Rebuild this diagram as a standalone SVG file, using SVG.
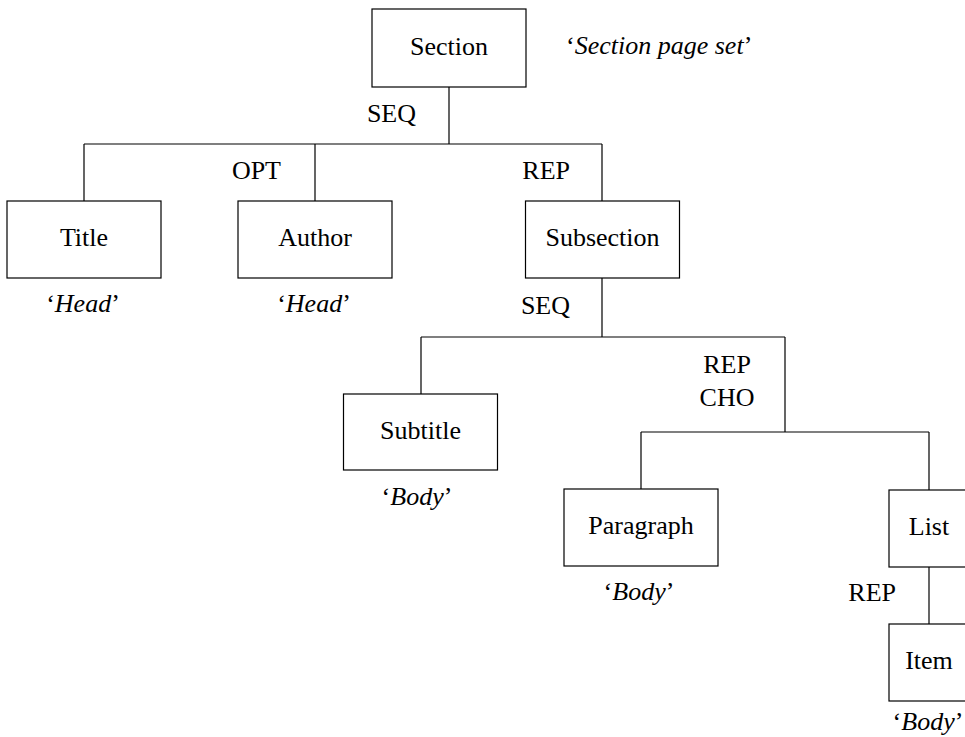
<svg xmlns="http://www.w3.org/2000/svg" width="965" height="737" viewBox="0 0 965 737">
<style>
  .box { fill: #ffffff; stroke: #000000; stroke-width: 1.2; }
  .conn { fill: none; stroke: #000000; stroke-width: 1.2; }
  text { font-family: "Liberation Serif", "Times New Roman", serif; font-size: 26px; fill: #000000; }
  .c { text-anchor: middle; }
  .r { text-anchor: end; }
  .i { font-style: italic; }
</style>
<rect width="965" height="737" fill="#ffffff"/>
<g id="connectors">
  <path class="conn" d="M449 87 V144 M84 144 H602 M84 144 V201 M315 144 V201 M602 144 V201"/>
  <path class="conn" d="M602 278 V337 M421 337 H785 M421 337 V394 M785 337 V432"/>
  <path class="conn" d="M641 432 H929 M641 432 V489 M929 432 V490"/>
  <path class="conn" d="M929 567 V624"/>
</g>
<g id="labels">
  <text class="r" x="416" y="121.5">SEQ</text>
  <text class="r" x="281" y="179">OPT</text>
  <text class="r" x="570" y="179">REP</text>
  <text class="r" x="570" y="314">SEQ</text>
  <text class="c" x="727" y="373">REP</text>
  <text class="c" x="727" y="406">CHO</text>
  <text class="r" x="896" y="600.5">REP</text>
</g>
<g id="node-section">
  <rect class="box" x="372" y="9" width="154" height="78"/>
  <text class="c" x="449" y="54.5">Section</text>
  <text x="566" y="53.5">‘<tspan class="i">Section page set</tspan>’</text>
</g>
<g id="node-title">
  <rect class="box" x="7" y="201" width="154" height="77"/>
  <text class="c" x="84" y="245.5">Title</text>
  <text class="c" x="83" y="311.5">‘<tspan class="i">Head</tspan>’</text>
</g>
<g id="node-author">
  <rect class="box" x="238" y="201" width="154" height="77"/>
  <text class="c" x="315" y="245.5">Author</text>
  <text class="c" x="314" y="311.5">‘<tspan class="i">Head</tspan>’</text>
</g>
<g id="node-subsection">
  <rect class="box" x="525.5" y="201" width="154" height="77"/>
  <text class="c" x="602.5" y="245.5">Subsection</text>
</g>
<g id="node-subtitle">
  <rect class="box" x="343.5" y="394" width="154" height="76"/>
  <text class="c" x="420.5" y="438.5">Subtitle</text>
  <text class="c" x="417" y="505">‘<tspan class="i">Body</tspan>’</text>
</g>
<g id="node-paragraph">
  <rect class="box" x="564" y="489" width="154" height="77"/>
  <text class="c" x="641" y="533.5">Paragraph</text>
  <text class="c" x="639" y="600">‘<tspan class="i">Body</tspan>’</text>
</g>
<g id="node-list">
  <rect class="box" x="889" y="490" width="80" height="77"/>
  <text class="c" x="929" y="534.5">List</text>
</g>
<g id="node-item">
  <rect class="box" x="889" y="624" width="80" height="77"/>
  <text class="c" x="928" y="730">‘<tspan class="i">Body</tspan>’</text>
  <text class="c" x="929" y="668.5">Item</text>
</g>
</svg>
